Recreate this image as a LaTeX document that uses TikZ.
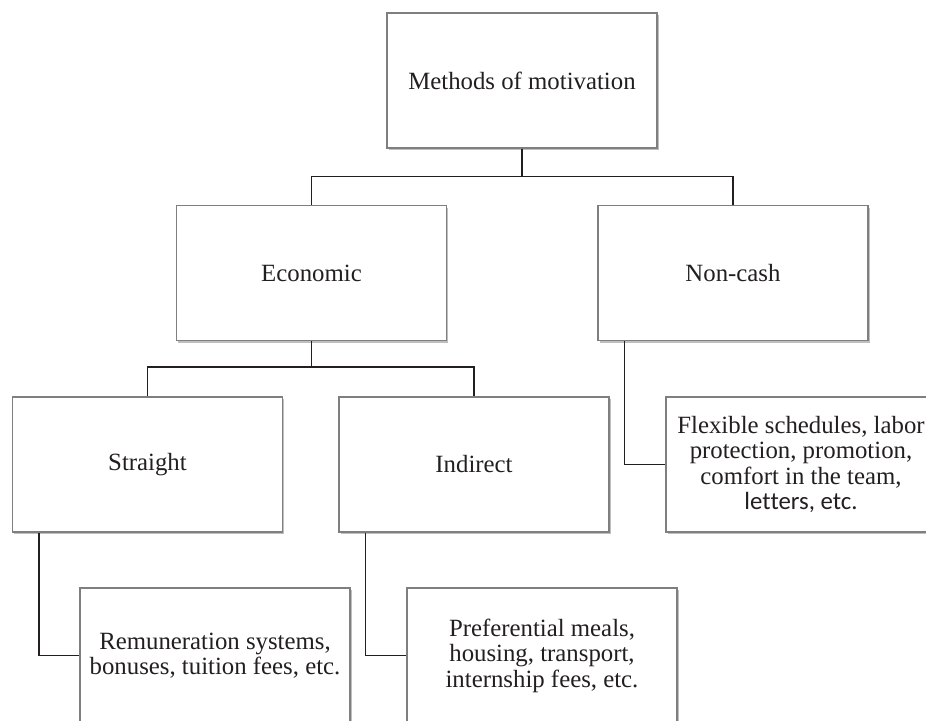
\documentclass[tikz,border=0pt]{standalone}
\usepackage{fontspec}
\setmainfont{Liberation Serif}
\newfontfamily\calib[Ligatures=NoCommon]{Carlito}
\usetikzlibrary{shadows}
\definecolor{boxline}{HTML}{7F7F7F}
\definecolor{txt}{HTML}{231F20}
\begin{document}
\begin{tikzpicture}[x=1pt,y=-1pt,
  box/.style={draw=boxline, line width=1.1pt, fill=white,
    minimum width=270pt, minimum height=135pt, inner sep=0pt,
    align=center, font=\fontsize{24.8}{25.5}\selectfont, text=txt,
    drop shadow={shadow xshift=1.8pt, shadow yshift=-2.2pt, fill=black!45, opacity=0.55}},
  link/.style={draw=txt, line width=1.3pt}]
\useasboundingbox (0,0) rectangle (926,720);
\clip (0,0) rectangle (926,720);
\fill[white] (0,0) rectangle (926,720);

\node[box] (top) at (522,80.5) {Methods of motivation};
\node[box] (eco) at (311.5,273) {Economic};
\node[box] (non) at (733,273) {Non-cash};
\node[box] (str) at (147.5,464.5) {Straight};
\node[box] (ind) at (474,464.5) {Indirect};
\node[box] (flex) at (801,464.5) {Flexible schedules, labor\\ protection, promotion,\\ comfort in the team,\\ {\calib let\kern0pt ters, etc.}};
\node[box, font=\fontsize{24.8}{24.7}\selectfont] (rem) at (215,655.5) {Remuneration systems,\\ bonuses, tuition fees, etc.};
\node[box] (pref) at (542,655.5) {Preferential meals,\\ housing, transport,\\ internship fees, etc.};

\draw[link] (top.south) -- ++(0,28) -| (eco.north);
\draw[link] (top.south) -- ++(0,28) -| (non.north);
\draw[link] (eco.south) -- ++(0,26) -| (str.north);
\draw[link] (eco.south) -- ++(0,26) -| (ind.north);
\draw[link] ([xshift=27pt]str.south west) |- (rem.west);
\draw[link] ([xshift=27pt]ind.south west) |- (pref.west);
\draw[link] ([xshift=27pt]non.south west) |- (flex.west);
\end{tikzpicture}
\end{document}
